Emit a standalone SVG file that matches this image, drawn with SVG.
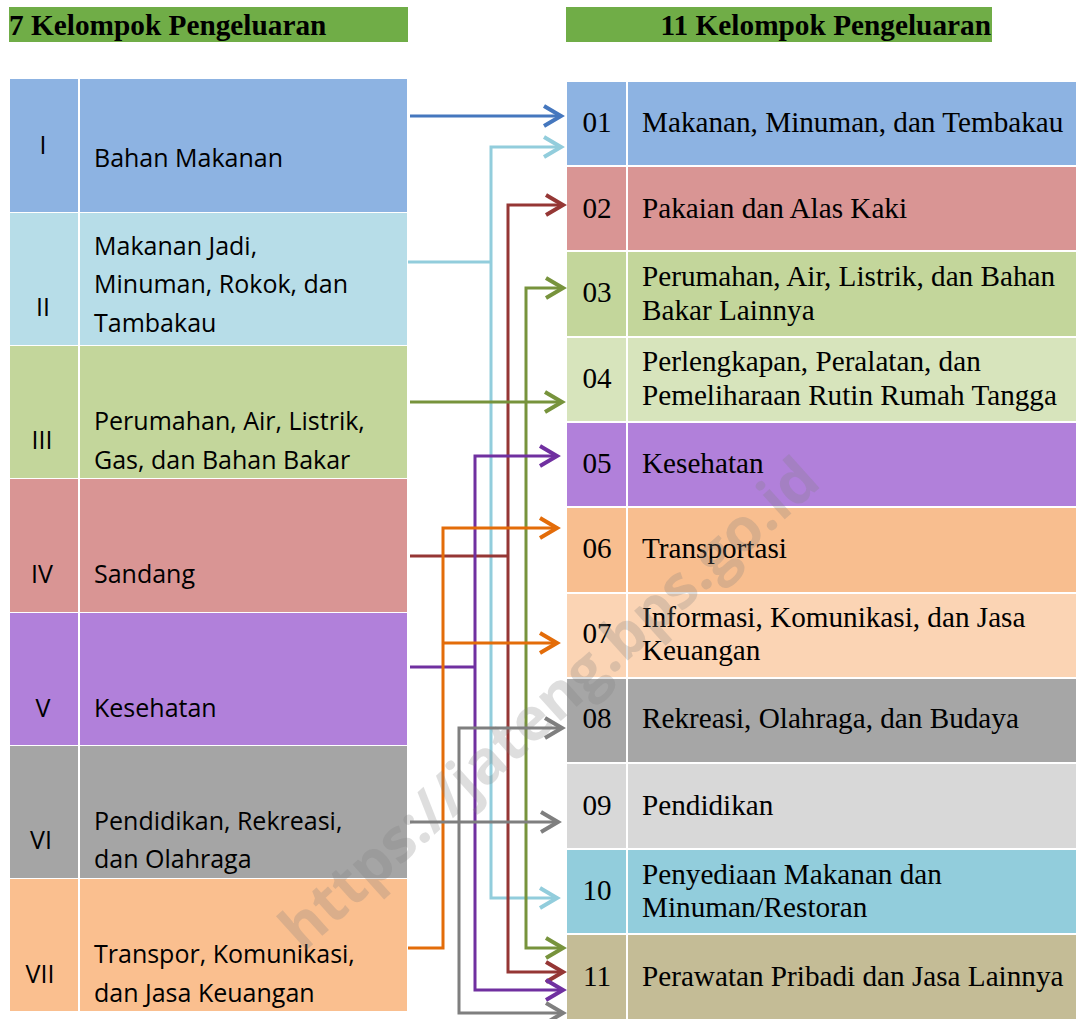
<svg xmlns="http://www.w3.org/2000/svg" width="1076" height="1019" viewBox="0 0 1076 1019">
<defs>
<style>
.hdr{font-family:"Liberation Serif","Times New Roman",serif;font-weight:bold;font-size:29.3px;fill:#000}
.lt{font-family:"Open Sans","Liberation Sans",sans-serif;font-size:25px;fill:#000}
.rt{font-family:"Liberation Serif","Times New Roman",serif;font-size:29.2px;fill:#000}
.num{text-anchor:middle}
.c{fill:none;stroke-width:3}
.wm{font-family:"Open Sans","Liberation Sans",sans-serif;font-weight:bold;font-size:60px;fill:#808080;fill-opacity:0.26}
</style>
<marker id="aBlue" viewBox="0 0 22 24" refX="19" refY="12" markerWidth="22" markerHeight="24" markerUnits="userSpaceOnUse" orient="auto" overflow="visible"><path d="M2,2 L19,12 L2,22" fill="none" stroke="#4577BE" stroke-width="4"/></marker>
<marker id="aLBlue" viewBox="0 0 22 24" refX="19" refY="12" markerWidth="22" markerHeight="24" markerUnits="userSpaceOnUse" orient="auto" overflow="visible"><path d="M2,2 L19,12 L2,22" fill="none" stroke="#92CDDC" stroke-width="4"/></marker>
<marker id="aRed" viewBox="0 0 22 24" refX="19" refY="12" markerWidth="22" markerHeight="24" markerUnits="userSpaceOnUse" orient="auto" overflow="visible"><path d="M2,2 L19,12 L2,22" fill="none" stroke="#953735" stroke-width="4"/></marker>
<marker id="aGreen" viewBox="0 0 22 24" refX="19" refY="12" markerWidth="22" markerHeight="24" markerUnits="userSpaceOnUse" orient="auto" overflow="visible"><path d="M2,2 L19,12 L2,22" fill="none" stroke="#77933C" stroke-width="4"/></marker>
<marker id="aPurple" viewBox="0 0 22 24" refX="19" refY="12" markerWidth="22" markerHeight="24" markerUnits="userSpaceOnUse" orient="auto" overflow="visible"><path d="M2,2 L19,12 L2,22" fill="none" stroke="#7030A0" stroke-width="4"/></marker>
<marker id="aOrange" viewBox="0 0 22 24" refX="19" refY="12" markerWidth="22" markerHeight="24" markerUnits="userSpaceOnUse" orient="auto" overflow="visible"><path d="M2,2 L19,12 L2,22" fill="none" stroke="#E36C09" stroke-width="4"/></marker>
<marker id="aGray" viewBox="0 0 22 24" refX="19" refY="12" markerWidth="22" markerHeight="24" markerUnits="userSpaceOnUse" orient="auto" overflow="visible"><path d="M2,2 L19,12 L2,22" fill="none" stroke="#7F7F7F" stroke-width="4"/></marker>
</defs>
<rect x="0" y="0" width="1076" height="1019" fill="#FFFFFF"/>

<g id="header-left">
<rect x="9" y="7" width="399" height="35" fill="#70AD47"/>
<text class="hdr" x="9" y="35">7 Kelompok Pengeluaran</text>
</g>
<g id="header-right">
<rect x="566" y="7" width="426" height="35" fill="#70AD47"/>
<text class="hdr" x="991" y="35" text-anchor="end">11 Kelompok Pengeluaran</text>
</g>

<g id="left-I">
<rect x="10" y="79" width="68" height="133" fill="#8DB3E2"/><rect x="80" y="79" width="327" height="133" fill="#8DB3E2"/>
<text class="lt num" x="43" y="154">I</text>
<text class="lt" x="94" y="167">Bahan Makanan</text>
</g>
<g id="left-II">
<rect x="10" y="213" width="68" height="132" fill="#B7DDE8"/><rect x="80" y="213" width="327" height="132" fill="#B7DDE8"/>
<text class="lt num" x="43" y="316">II</text>
<text class="lt" x="94" y="255">Makanan Jadi,</text>
<text class="lt" x="94" y="293">Minuman, Rokok, dan</text>
<text class="lt" x="94" y="332">Tambakau</text>
</g>
<g id="left-III">
<rect x="10" y="346" width="68" height="132" fill="#C3D69B"/><rect x="80" y="346" width="327" height="132" fill="#C3D69B"/>
<text class="lt num" x="42" y="449">III</text>
<text class="lt" x="94" y="430">Perumahan, Air, Listrik,</text>
<text class="lt" x="94" y="469">Gas, dan Bahan Bakar</text>
</g>
<g id="left-IV">
<rect x="10" y="479" width="68" height="133" fill="#D99594"/><rect x="80" y="479" width="327" height="133" fill="#D99594"/>
<text class="lt num" x="42" y="583">IV</text>
<text class="lt" x="94" y="583">Sandang</text>
</g>
<g id="left-V">
<rect x="10" y="613" width="68" height="132" fill="#B180DA"/><rect x="80" y="613" width="327" height="132" fill="#B180DA"/>
<text class="lt num" x="43" y="717">V</text>
<text class="lt" x="94" y="717">Kesehatan</text>
</g>
<g id="left-VI">
<rect x="10" y="746" width="68" height="132" fill="#A5A5A5"/><rect x="80" y="746" width="327" height="132" fill="#A5A5A5"/>
<text class="lt num" x="41" y="849">VI</text>
<text class="lt" x="94" y="830">Pendidikan, Rekreasi,</text>
<text class="lt" x="94" y="868">dan Olahraga</text>
</g>
<g id="left-VII">
<rect x="10" y="879" width="68" height="132" fill="#FABF8F"/><rect x="80" y="879" width="327" height="132" fill="#FABF8F"/>
<text class="lt num" x="40" y="983">VII</text>
<text class="lt" x="94" y="963">Transpor, Komunikasi,</text>
<text class="lt" x="94" y="1002">dan Jasa Keuangan</text>
</g>

<g id="right-01">
<rect x="567" y="82" width="59" height="83" fill="#8DB3E2"/><rect x="628" y="82" width="448" height="83" fill="#8DB3E2"/>
<text class="rt num" x="597" y="132">01</text>
<text class="rt" x="642" y="132">Makanan, Minuman, dan Tembakau</text>
</g>
<g id="right-02">
<rect x="567" y="167" width="59" height="83" fill="#D99594"/><rect x="628" y="167" width="448" height="83" fill="#D99594"/>
<text class="rt num" x="597" y="218">02</text>
<text class="rt" x="642" y="218">Pakaian dan Alas Kaki</text>
</g>
<g id="right-03">
<rect x="567" y="252" width="59" height="84" fill="#C3D69B"/><rect x="628" y="252" width="448" height="84" fill="#C3D69B"/>
<text class="rt num" x="597" y="302">03</text>
<text class="rt" x="642" y="286">Perumahan, Air, Listrik, dan Bahan</text>
<text class="rt" x="642" y="320">Bakar Lainnya</text>
</g>
<g id="right-04">
<rect x="567" y="338" width="59" height="83" fill="#D7E4BC"/><rect x="628" y="338" width="448" height="83" fill="#D7E4BC"/>
<text class="rt num" x="597" y="388">04</text>
<text class="rt" x="642" y="371">Perlengkapan, Peralatan, dan</text>
<text class="rt" x="642" y="405">Pemeliharaan Rutin Rumah Tangga</text>
</g>
<g id="right-05">
<rect x="567" y="423" width="59" height="83" fill="#B180DA"/><rect x="628" y="423" width="448" height="83" fill="#B180DA"/>
<text class="rt num" x="597" y="473">05</text>
<text class="rt" x="642" y="473">Kesehatan</text>
</g>
<g id="right-06">
<rect x="567" y="508" width="59" height="84" fill="#F8BE8F"/><rect x="628" y="508" width="448" height="84" fill="#F8BE8F"/>
<text class="rt num" x="597" y="558">06</text>
<text class="rt" x="642" y="558">Transportasi</text>
</g>
<g id="right-07">
<rect x="567" y="594" width="59" height="83" fill="#FBD4B4"/><rect x="628" y="594" width="448" height="83" fill="#FBD4B4"/>
<text class="rt num" x="597" y="643">07</text>
<text class="rt" x="642" y="627">Informasi, Komunikasi, dan Jasa</text>
<text class="rt" x="642" y="660">Keuangan</text>
</g>
<g id="right-08">
<rect x="567" y="679" width="59" height="83" fill="#A6A6A6"/><rect x="628" y="679" width="448" height="83" fill="#A6A6A6"/>
<text class="rt num" x="597" y="728">08</text>
<text class="rt" x="642" y="728">Rekreasi, Olahraga, dan Budaya</text>
</g>
<g id="right-09">
<rect x="567" y="764" width="59" height="84" fill="#D8D8D8"/><rect x="628" y="764" width="448" height="84" fill="#D8D8D8"/>
<text class="rt num" x="597" y="815">09</text>
<text class="rt" x="642" y="815">Pendidikan</text>
</g>
<g id="right-10">
<rect x="567" y="850" width="59" height="83" fill="#92CDDC"/><rect x="628" y="850" width="448" height="83" fill="#92CDDC"/>
<text class="rt num" x="597" y="900">10</text>
<text class="rt" x="642" y="884">Penyediaan Makanan dan</text>
<text class="rt" x="642" y="917">Minuman/Restoran</text>
</g>
<g id="right-11">
<rect x="567" y="935" width="59" height="84" fill="#C4BC96"/><rect x="628" y="935" width="448" height="84" fill="#C4BC96"/>
<text class="rt num" x="597" y="986">11</text>
<text class="rt" x="642" y="986">Perawatan Pribadi dan Jasa Lainnya</text>
</g>

<g id="connectors">
<path class="c" stroke="#4577BE" d="M410,116 H561" marker-end="url(#aBlue)"/>
<path class="c" stroke="#92CDDC" d="M408,262 H491"/>
<path class="c" stroke="#92CDDC" d="M491,262 V147 H561" marker-end="url(#aLBlue)"/>
<path class="c" stroke="#92CDDC" d="M491,262 V898 H557" marker-end="url(#aLBlue)"/>
<path class="c" stroke="#953735" d="M410,556 H508"/>
<path class="c" stroke="#953735" d="M508,556 V205 H563" marker-end="url(#aRed)"/>
<path class="c" stroke="#953735" d="M508,556 V972 H563" marker-end="url(#aRed)"/>
<path class="c" stroke="#77933C" d="M410,402 H562" marker-end="url(#aGreen)"/>
<path class="c" stroke="#77933C" d="M526,402 V288 H563" marker-end="url(#aGreen)"/>
<path class="c" stroke="#77933C" d="M526,402 V948 H563" marker-end="url(#aGreen)"/>
<path class="c" stroke="#7030A0" d="M410,667 H475"/>
<path class="c" stroke="#7030A0" d="M475,667 V456 H557" marker-end="url(#aPurple)"/>
<path class="c" stroke="#7030A0" d="M475,667 V990 H563" marker-end="url(#aPurple)"/>
<path class="c" stroke="#E36C09" d="M408,948 H443 V528 H557" marker-end="url(#aOrange)"/>
<path class="c" stroke="#E36C09" d="M443,643 H557" marker-end="url(#aOrange)"/>
<path class="c" stroke="#7F7F7F" d="M410,822 H558" marker-end="url(#aGray)"/>
<path class="c" stroke="#7F7F7F" d="M459,822 V728 H562" marker-end="url(#aGray)"/>
<path class="c" stroke="#7F7F7F" d="M459,822 V1013 H563" marker-end="url(#aGray)"/>
</g>

<text class="wm" x="563" y="719" text-anchor="middle" transform="rotate(-42 563 719)">https://jateng.bps.go.id</text>
</svg>
